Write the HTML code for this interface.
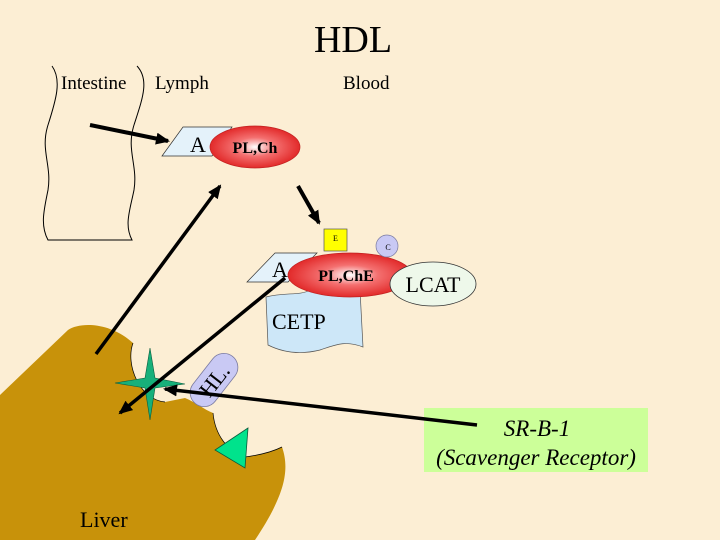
<!DOCTYPE html>
<html><head><meta charset="utf-8"><style>
html,body{margin:0;padding:0;background:#FCEED4;}
svg{display:block;font-family:"Liberation Serif",serif;}
</style></head><body>
<svg width="720" height="540" viewBox="0 0 720 540" xmlns="http://www.w3.org/2000/svg">
<defs>
<radialGradient id="rg" cx="0.5" cy="0.5" r="0.5">
<stop offset="0" stop-color="#ffffff"/><stop offset="0.45" stop-color="#f47070"/><stop offset="1" stop-color="#e22a2a"/>
</radialGradient>
<marker id="ah2" markerWidth="14" markerHeight="12" refX="12" refY="6" orient="auto" markerUnits="userSpaceOnUse"><path d="M0,0 L14,6 L0,12 Z" fill="#000"/></marker>
</defs>
<rect width="720" height="540" fill="#FCEED4"/>
<text x="353" y="52" font-size="38" text-anchor="middle">HDL</text>
<path d="M52,66 C62,80 56,100 48,125 C40,150 52,165 48,190 C44,210 40,225 48,240 L132,240 C124,225 130,210 134,190 C138,165 126,150 134,125 C142,100 150,80 137,66" fill="none" stroke="#000" stroke-width="1"/>
<text x="61" y="89" font-size="19">Intestine</text>
<text x="155" y="89" font-size="19">Lymph</text>
<text x="343" y="89" font-size="19">Blood</text>
<path d="M0,395 L68,330 C80,322 110,322 133,343 C125,365 140,400 165,402 L185,398 C195,402 205,410 213,413 C215,435 228,452 245,457 C260,455 272,452 282,447 C290,470 285,495 255,540 L0,540 Z" fill="#C8920A"/>
<path d="M133,343 C125,365 140,400 165,402" fill="none" stroke="#000" stroke-width="0.7"/>
<path d="M213,413 C215,435 228,452 245,457 C260,455 272,452 282,447" fill="none" stroke="#000" stroke-width="0.7"/>
<text x="80" y="527" font-size="22">Liver</text>
<path d="M150,348 L155,378 L185,384 L155,388 L150,420 L145,388 L115,383 L145,378 Z" fill="#17B07A" stroke="#0a5a3c" stroke-width="0.6"/>
<path d="M248,428 L215,450 L245,468 Z" fill="#00E38C" stroke="#0a5a3c" stroke-width="0.8"/>
<g transform="translate(214,380) rotate(-52)">
<rect x="-30" y="-14" width="60" height="28" rx="14" fill="#C9C9F4" stroke="#7a7aa0" stroke-width="0.8"/>
<text x="0" y="8" font-size="22" text-anchor="middle">HL.</text>
</g>
<path d="M162,156 L183,127 L232,127 L212,156 Z" fill="#E4F2FA" stroke="#333" stroke-width="0.7"/>
<text x="190" y="152" font-size="22">A</text>
<ellipse cx="255" cy="147" rx="45" ry="21" fill="url(#rg)" stroke="#c02020" stroke-width="0.7"/>
<text x="255" y="153" font-size="16" font-weight="bold" text-anchor="middle">PL,Ch</text>
<path d="M266,297 C285,292 300,296 310,290 L360,290 L363,347 C345,340 335,345 320,350 C300,355 282,352 268,345 Z" fill="#CDE7F8" stroke="#555" stroke-width="0.7"/>
<text x="272" y="329" font-size="22">CETP</text>
<path d="M247,282 L275,253 L317,253 L288,282 Z" fill="#E4F2FA" stroke="#333" stroke-width="0.7"/>
<text x="272" y="277" font-size="22">A</text>
<ellipse cx="350" cy="275" rx="62" ry="22" fill="url(#rg)" stroke="#c02020" stroke-width="0.7"/>
<text x="346" y="281" font-size="16" font-weight="bold" text-anchor="middle">PL,ChE</text>
<rect x="324" y="229" width="23" height="22" fill="#FFFF00" stroke="#555" stroke-width="0.7"/>
<text x="335.5" y="241" font-size="8" text-anchor="middle">E</text>
<circle cx="387" cy="246" r="11" fill="#C9C9F4" stroke="#7a7aa0" stroke-width="0.7"/>
<text x="388" y="250" font-size="8" text-anchor="middle">C</text>
<ellipse cx="433" cy="284" rx="43" ry="22" fill="#EEF8EA" stroke="#333" stroke-width="0.8"/>
<text x="433" y="292" font-size="22" text-anchor="middle">LCAT</text>
<rect x="424" y="408" width="224" height="64" fill="#CCFF99"/>
<text x="537" y="436" font-size="23" font-style="italic" text-anchor="middle">SR-B-1</text>
<text x="536" y="465" font-size="23" font-style="italic" text-anchor="middle">(Scavenger Receptor)</text>
<line x1="90" y1="125" x2="168" y2="141" stroke="#000" stroke-width="4" marker-end="url(#ah2)"/>
<line x1="298" y1="186" x2="319" y2="223" stroke="#000" stroke-width="4" marker-end="url(#ah2)"/>
<line x1="96" y1="354" x2="220" y2="186" stroke="#000" stroke-width="3.5" marker-end="url(#ah2)"/>
<line x1="285" y1="278" x2="120" y2="413" stroke="#000" stroke-width="3.5" marker-end="url(#ah2)"/>
<line x1="477" y1="425" x2="165" y2="389" stroke="#000" stroke-width="3.5" marker-end="url(#ah2)"/>
</svg>
</body></html>
